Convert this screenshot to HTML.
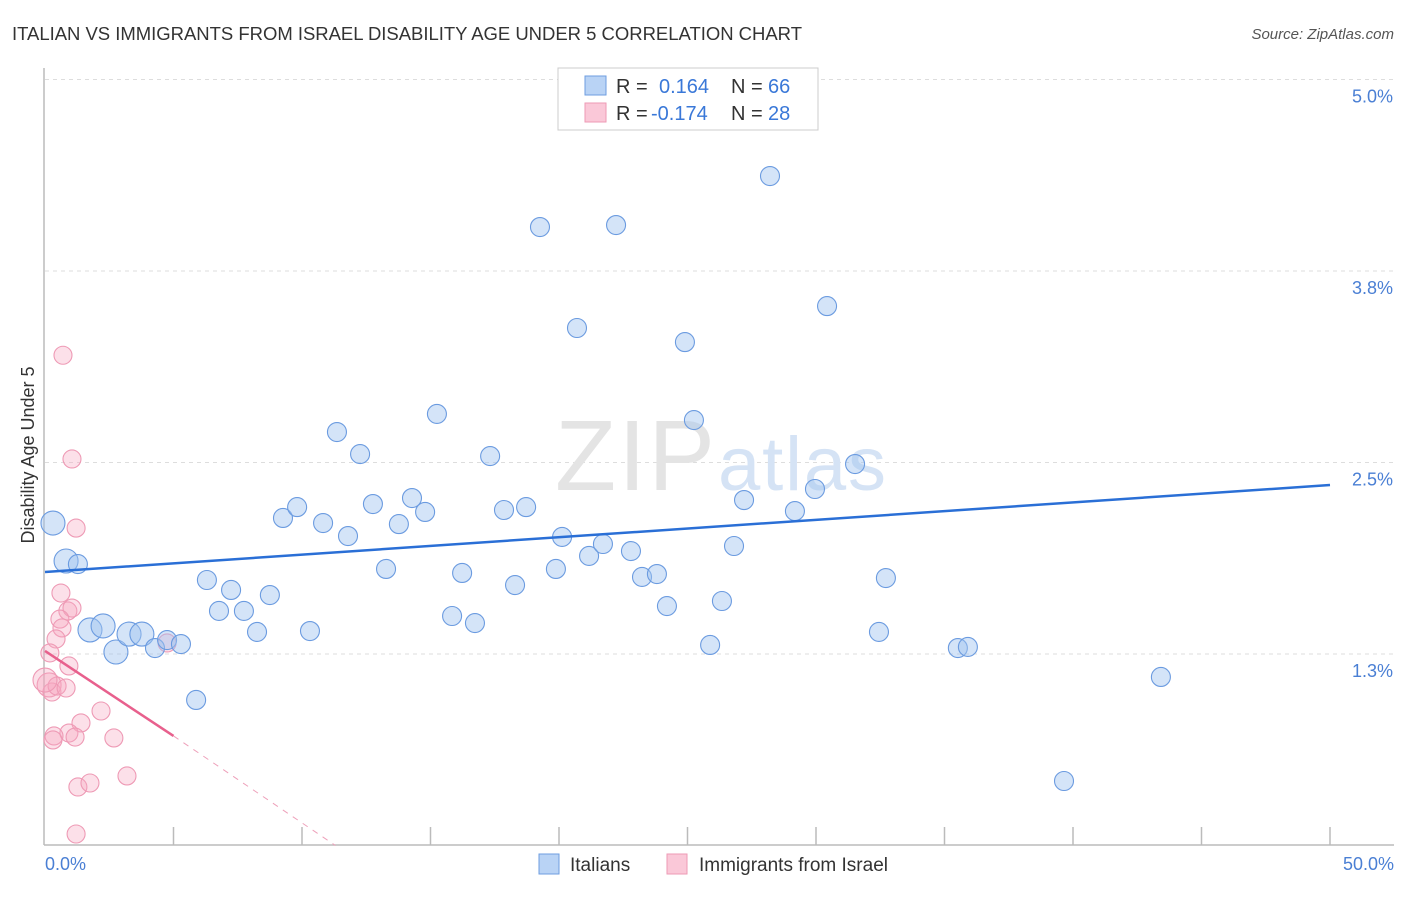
<!DOCTYPE html>
<html><head><meta charset="utf-8"><style>
body{margin:0;background:#fff;font-family:"Liberation Sans",sans-serif}
svg text{font-family:"Liberation Sans",sans-serif}
</style></head><body>
<svg id="chart" width="1406" height="892">
<text x="12" y="40" font-size="18.5" fill="#333" textLength="790">ITALIAN VS IMMIGRANTS FROM ISRAEL DISABILITY AGE UNDER 5 CORRELATION CHART</text>
<text x="1394" y="39" font-size="15" fill="#555" text-anchor="end" font-style="italic">Source: ZipAtlas.com</text>
<text x="34" y="455" font-size="18" fill="#333" text-anchor="middle" transform="rotate(-90 34 455)">Disability Age Under 5</text>
<g id="grid"></g>
<text x="555" y="490" font-size="100" fill="#e4e4e4" textLength="160" font-family="Liberation Serif">ZIP</text>
<text x="718" y="490" font-size="76" fill="#d5e3f5" textLength="168">atlas</text>
<g id="pts"></g>
<g id="lines"></g>
<g>
<rect x="558" y="68" width="260" height="62" fill="#fff" stroke="#ccc"/>
<rect x="585" y="76" width="21" height="19" fill="#b9d3f5" stroke="#6e9ee0"/>
<rect x="585" y="103" width="21" height="19" fill="#fac8d8" stroke="#ee9ab5"/>
<text x="616" y="93" font-size="20" fill="#333">R = <tspan x="659" fill="#3a78d8">0.164</tspan><tspan x="731" fill="#333">N = </tspan><tspan x="768" fill="#3a78d8">66</tspan></text>
<text x="616" y="120" font-size="20" fill="#333">R = <tspan x="651" fill="#3a78d8">-0.174</tspan><tspan x="731" fill="#333">N = </tspan><tspan x="768" fill="#3a78d8">28</tspan></text>
</g>
<g>
<rect x="539" y="854" width="20" height="20" fill="#b9d3f5" stroke="#6e9ee0"/>
<text x="570" y="871" font-size="19" fill="#333">Italians</text>
<rect x="667" y="854" width="20" height="20" fill="#fac8d8" stroke="#ee9ab5"/>
<text x="699" y="871" font-size="19" fill="#333">Immigrants from Israel</text>
</g>
</svg>
<script>
const xTicks=[0,5,10,15,20,25,30,35,40,45,50];
const yTicks=[1.25,2.5,3.75,5.0];
const yTickLabels=["1.3%","2.5%","3.8%","5.0%"];
const italiansX=[0.31,0.82,1.28,1.75,2.26,2.76,3.27,3.77,4.28,4.75,5.29,5.88,6.30,6.77,7.24,7.74,8.25,8.75,9.26,9.81,10.31,10.82,11.36,11.79,12.26,12.76,13.27,13.77,14.28,14.79,15.25,15.84,16.23,16.73,17.32,17.86,18.29,18.72,19.26,19.88,20.12,20.70,21.17,21.71,22.22,22.80,23.23,23.81,24.20,24.90,25.25,25.88,26.34,26.81,27.20,28.21,29.18,29.96,30.43,31.52,32.45,32.72,35.52,35.91,43.42,39.65];
const italiansY=[2.105,1.857,1.837,1.407,1.433,1.263,1.38,1.38,1.289,1.341,1.315,0.95,1.733,1.531,1.668,1.531,1.394,1.635,2.138,2.209,1.4,2.105,2.699,2.02,2.555,2.229,1.805,2.098,2.268,2.177,2.817,1.498,1.779,1.452,2.542,2.19,1.7,2.209,4.037,1.805,2.014,3.378,1.89,1.968,4.05,1.922,1.753,1.772,1.563,3.286,2.777,1.309,1.596,1.955,2.255,4.37,2.183,2.327,3.521,2.49,1.394,1.746,1.289,1.296,1.1,0.421];
const italiansBig=[1,1,0,1,1,1,1,1,0,0,0,0,0,0,0,0,0,0,0,0,0,0,0,0,0,0,0,0,0,0,0,0,0,0,0,0,0,0,0,0,0,0,0,0,0,0,0,0,0,0,0,0,0,0,0,0,0,0,0,0,0,0,0,0,0,0];
const israelX=[0.70,1.05,1.21,0.62,0.89,1.05,0.58,0.66,0.43,0.19,0.93,0.16,0.27,0.47,0.82,2.18,1.40,0.93,0.35,0.31,1.17,2.68,3.19,1.28,1.75,1.21,4.75,0.0];
const israelY=[3.2,2.523,2.072,1.648,1.531,1.55,1.478,1.42,1.348,1.257,1.172,1.048,1.002,1.041,1.028,0.878,0.8,0.734,0.715,0.689,0.708,0.702,0.454,0.382,0.408,0.075,1.322,1.08];
const italiansTrend=[[0,1.785],[50,2.353]];
const israelTrend=[[0,1.27],[5,0.715]];
const israelTrendExt=[[5,0.715],[11.3,0]];
const NS="http://www.w3.org/2000/svg";
const X=v=>45+v/50*1285, Y=v=>845.5-v/1.25*191.5;
function mk(t,a,p){const e=document.createElementNS(NS,t);for(const k in a)e.setAttribute(k,a[k]);document.getElementById(p).appendChild(e);return e;}
yTicks.forEach((t,i)=>{
 const g=mk('line',{x1:45,x2:1394,y1:Y(t),y2:Y(t),stroke:'#ddd','stroke-dasharray':'4 4'},'grid');
 
 
 const l=mk('text',{x:1393,y:Y(t)+23,'font-size':18,fill:'#4a7fd4','text-anchor':'end'},'grid');
 l.textContent=yTickLabels[i];
 
 
});
const ax=mk('line',{x1:44,x2:44,y1:68,y2:845,stroke:'#bbb','stroke-width':1.5},'grid');


const bx=mk('line',{x1:44,x2:1394,y1:845,y2:845,stroke:'#bbb','stroke-width':1.5},'grid');


xTicks.forEach(t=>{
 if(t===0)return;
 const e=mk('line',{x1:X(t),x2:X(t),y1:827,y2:845,stroke:'#bbb','stroke-width':1.5},'grid');
 
 
});
const xl0=mk('text',{x:45,y:870,'font-size':18,fill:'#4a7fd4'},'grid');xl0.textContent=xTicks[0].toFixed(1)+'%';


const xl1=mk('text',{x:1394,y:870,'font-size':18,fill:'#4a7fd4','text-anchor':'end'},'grid');xl1.textContent=xTicks[xTicks.length-1].toFixed(1)+'%';


israelX.forEach((x,i)=>{
 const c=mk('circle',{cx:X(x),cy:Y(israelY[i]),r:(i===11||i===27)?12:9,fill:'rgba(245,165,192,0.35)',stroke:'#ee9ab5','stroke-width':1.1},'pts');
 
 
});
italiansX.forEach((x,i)=>{
 const c=mk('circle',{cx:X(x),cy:Y(italiansY[i]),r:italiansBig[i]?12:9.5,fill:'rgba(160,196,240,0.45)',stroke:'#6b9be0','stroke-width':1.1},'pts');
 
 
});
function ln(d,s,w,dash,name){const e=mk('line',{x1:X(d[0][0]),y1:Y(d[0][1]),x2:X(d[1][0]),y2:Y(d[1][1]),stroke:s,'stroke-width':w,'stroke-dasharray':dash||'none'},'lines');
 
 }
ln(italiansTrend,'#2a6fd6',2.5,null,'italians-trend-line');
ln(israelTrend,'#e8608d',2.5,null,'israel-trend-line');
ln(israelTrendExt,'#eea0ba',1,'6 6','israel-trend-extension');
</script>
</body></html>
